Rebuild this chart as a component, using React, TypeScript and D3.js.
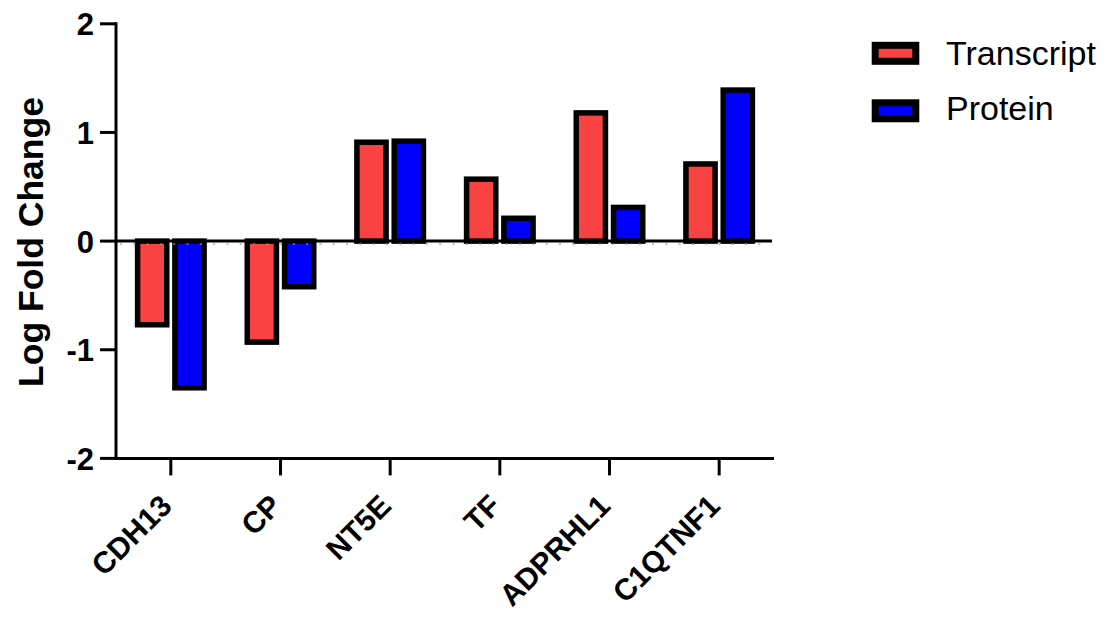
import React from "react";
import * as d3 from "d3";

const categories = ["CDH13", "CP", "NT5E", "TF", "ADPRHL1", "C1QTNF1"];
const seriesNames = ["Transcript", "Protein"];
const transcript = [-0.77, -0.93, 0.91, 0.57, 1.18, 0.71];
const protein = [-1.35, -0.42, 0.92, 0.21, 0.31, 1.39];
const yTicks = [-2, -1, 0, 1, 2];
const colors = ["#F94242", "#0000FF"];

const W = 1108;
const H = 618;
const FONT = "'Liberation Sans', Arial, Helvetica, sans-serif";

export default function App() {
  const x0 = d3.scaleBand<string>().domain(categories).range([116, 774]);
  const x1 = d3.scaleBand<string>().domain(seriesNames).range([-36, 36]).paddingInner(0.07);
  const y = d3.scaleLinear().domain([-2, 2]).range([458.4, 23.8]);
  const values = [transcript, protein];
  const sw = 5.5;
  const xLeft = 116;
  const xRight = 774;

  return (
    <svg
      width={W}
      height={H}
      viewBox={`0 0 ${W} ${H}`}
      style={{ position: "absolute", left: 0, top: 0, background: "#fff" }}
    >
      {/* bars */}
      {categories.map((c, i) => {
        const cx = (x0(c) ?? 0) + x0.bandwidth() / 2;
        return seriesNames.map((s, j) => {
          const v = values[j][i];
          const bx = cx + (x1(s) ?? 0);
          const bw = x1.bandwidth();
          const yTop = Math.min(y(0), y(v));
          const yBot = Math.max(y(0), y(v));
          return (
            <rect
              key={c + s}
              x={bx + sw / 2}
              y={yTop}
              width={bw - sw}
              height={yBot - yTop}
              fill={colors[j]}
              stroke="#000"
              strokeWidth={sw}
            />
          );
        });
      })}

      {/* faint dotted artifact under zero line */}
      <line
        x1={xLeft + 4}
        x2={xRight - 2}
        y1={y(0) + 3}
        y2={y(0) + 3}
        stroke="#9a9a9a"
        strokeWidth={1.2}
        strokeDasharray="2 11.3"
      />
      {/* zero line */}
      <line x1={xLeft} x2={xRight - 2} y1={y(0)} y2={y(0)} stroke="#000" strokeWidth={3} />

      {/* y axis */}
      <line x1={xLeft} x2={xLeft} y1={y(2) - 1.5} y2={y(-2) + 1.5} stroke="#000" strokeWidth={3} />
      {yTicks.map((t) => (
        <g key={t}>
          <line x1={xLeft - 16} x2={xLeft} y1={y(t)} y2={y(t)} stroke="#000" strokeWidth={3} />
          <text
            x={94}
            y={y(t)}
            dy="0.37em"
            textAnchor="end"
            fontFamily={FONT}
            fontWeight="bold"
            fontSize={31}
            fill="#000"
          >
            {t}
          </text>
        </g>
      ))}

      {/* x axis */}
      <line x1={xLeft - 1.5} x2={xRight} y1={y(-2)} y2={y(-2)} stroke="#000" strokeWidth={3} />
      {categories.map((c) => {
        const cx = (x0(c) ?? 0) + x0.bandwidth() / 2;
        return (
          <g key={c}>
            <line x1={cx} x2={cx} y1={y(-2)} y2={y(-2) + 17} stroke="#000" strokeWidth={3} />
            <text
              transform={`translate(${cx - 5},${500}) rotate(-45)`}
              dy="0.36em"
              textAnchor="end"
              fontFamily={FONT}
              fontWeight="bold"
              fontSize={30}
              fill="#000"
            >
              {c}
            </text>
          </g>
        );
      })}

      {/* y title */}
      <text
        transform={`translate(43,242) rotate(-90)`}
        textAnchor="middle"
        fontFamily={FONT}
        fontWeight="bold"
        fontSize={35.5}
        fill="#000"
      >
        Log Fold Change
      </text>

      {/* legend */}
      {seriesNames.map((s, j) => {
        const ly = [53.3, 110.8][j];
        return (
          <g key={s}>
            <rect
              x={875.2}
              y={ly - 8}
              width={40.6}
              height={16}
              fill={colors[j]}
              stroke="#000"
              strokeWidth={7}
            />
            <text
              x={946}
              y={[65, 120][j]}
              fontFamily={FONT}
              fontSize={34}
              fill="#000"
            >
              {s}
            </text>
          </g>
        );
      })}
    </svg>
  );
}
